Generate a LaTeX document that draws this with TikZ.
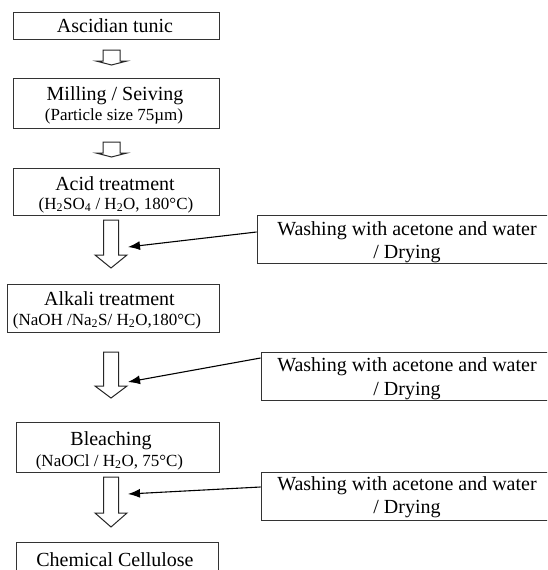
\documentclass[tikz,border=0pt]{standalone}
\usepackage{fontspec}
\setmainfont{Liberation Serif}
\usetikzlibrary{arrows.meta}
\newcommand\mainfs{\fontsize{20}{23}\selectfont}
\newcommand\subfs{\fontsize{17}{20}\selectfont}
\newcommand\hollowdown[6]{% x, top, bar, tip, stem half, head half
  \draw[hollowarrow] ({#1-#5},#2) -- ({#1+#5},#2) -- ({#1+#5},#3) -- ({#1+#6},#3)
    -- (#1,#4) -- ({#1-#6},#3) -- ({#1-#5},#3) -- cycle;}
\begin{document}
\begin{tikzpicture}[x=1pt,y=-1pt,
  procbox/.style={draw=black!80, line width=0.9pt, inner sep=0pt},
  hollowarrow/.style={draw=black!85, line width=1pt, fill=white, line join=miter},
  thinarrow/.style={draw=black, line width=1.1pt, -{Latex[length=12pt,width=9pt]}},
  maintext/.style={anchor=base, inner sep=0pt, font=\mainfs},
  subtext/.style={anchor=base, inner sep=0pt, font=\subfs}]
\clip (0,0) rectangle (547,570);
\fill[white] (0,0) rectangle (547,570);

% process boxes
\node[procbox, minimum width=206pt, minimum height=27pt] (b1) at (116,25.5) {};
\node[procbox, minimum width=206pt, minimum height=50pt] (b2) at (116,103) {};
\node[procbox, minimum width=206pt, minimum height=47pt] (b3) at (116,191.5) {};
\node[procbox, minimum width=212pt, minimum height=48pt] (b4) at (113,308) {};
\node[procbox, minimum width=203pt, minimum height=50pt] (b5) at (117.5,447) {};
\node[procbox, minimum width=202pt, minimum height=38pt] (b6) at (117,561) {};

% washing boxes
\node[procbox, minimum width=303pt, minimum height=48pt] (w1) at (408.5,239) {};
\node[procbox, minimum width=299pt, minimum height=48pt] (w2) at (410.5,376) {};
\node[procbox, minimum width=299pt, minimum height=48pt] (w3) at (410.5,496) {};

% texts
\node[maintext] (t1) at (115,32) {Ascidian tunic};
\node[maintext] (t2a) at (115,100) {Milling / Seiving};
\node[subtext] (t2b) at (114,120) {(Particle size 75µm)};
\node[maintext] (t3a) at (115,190) {Acid treatment};
\node[subtext] (t3b) at (116,209) {(H\textsubscript{2}SO\textsubscript{4} / H\textsubscript{2}O, 180°C)};
\node[maintext] (t4a) at (109.5,305) {Alkali treatment};
\node[subtext] (t4b) at (107,325) {(NaOH /Na\textsubscript{2}S/ H\textsubscript{2}O,180°C)};
\node[maintext] (t5a) at (111,445) {Bleaching};
\node[subtext] (t5b) at (109.5,466) {(NaOCl / H\textsubscript{2}O, 75°C)};
\node[maintext] (t6) at (115,566) {Chemical Cellulose};

\node[maintext] (w1a) at (407,235) {Washing with acetone and water};
\node[maintext] (w1b) at (407,258) {/ Drying};
\node[maintext] (w2a) at (407,371) {Washing with acetone and water};
\node[maintext] (w2b) at (407,395) {/ Drying};
\node[maintext] (w3a) at (407,490) {Washing with acetone and water};
\node[maintext] (w3b) at (407,513) {/ Drying};

% hollow arrows between steps
\hollowdown{111.5}{50}{61}{65}{8.5}{15.5}
\hollowdown{111.5}{142}{153}{157}{8.5}{15.5}
\hollowdown{111}{220}{255}{268}{7.5}{16}
\hollowdown{111}{352}{386}{398}{7.5}{16}
\hollowdown{111}{477}{513}{527}{7.5}{16}

% arrow targets on the hollow arrows
\coordinate (e1) at (128,247);
\coordinate (e2) at (128,382);
\coordinate (e3) at (128,494);

% thin arrows from washing boxes
\draw[thinarrow] ([yshift=7pt]w1.west) -- (e1);
\draw[thinarrow] ([yshift=18pt]w2.west) -- (e2);
\draw[thinarrow] ([yshift=9pt]w3.west) -- (e3);
\end{tikzpicture}
\end{document}
